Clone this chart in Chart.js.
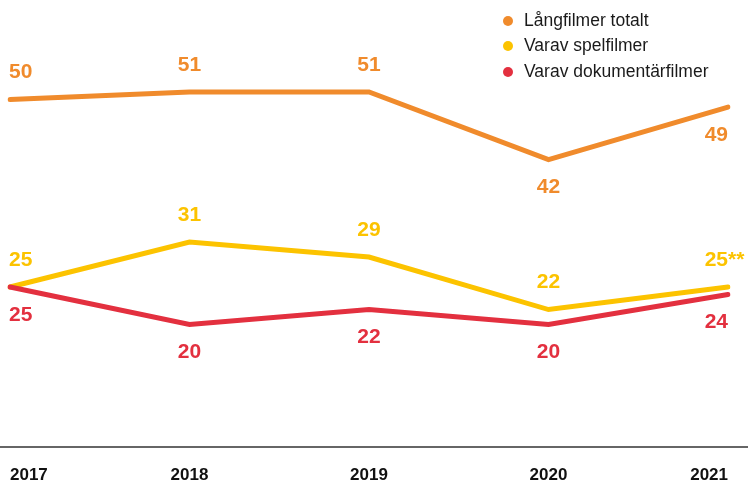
<!DOCTYPE html>
<html>
<head>
<meta charset="utf-8">
<script src="https://cdn.jsdelivr.net/npm/chart.js@4.4.0/dist/chart.umd.min.js"></script>
<style>
  body { margin: 0; background: #fff; }
  #wrap { position: relative; width: 748px; height: 480px; }
  #legend { position: absolute; left: 503px; top: 7.5px; font-family: "Liberation Sans", Arial, sans-serif; font-size: 17.5px; color: #1a1a1a; }
  #legend div { height: 25.5px; line-height: 25.5px; white-space: nowrap; }
  #legend span { display: inline-block; width: 10px; height: 10px; border-radius: 50%; margin-right: 11px; vertical-align: 0px; }
</style>
</head>
<body>
<div id="wrap">
  <canvas id="chart" width="748" height="480"></canvas>
  <div id="legend"></div>
</div>
<script>
const years = ['2017', '2018', '2019', '2020', '2021'];
const totalt = [50, 51, 51, 42, 49];
const spel = [25, 31, 29, 22, 25];
const dokumentar = [25, 20, 22, 20, 24];
const spelNotes = ['', '', '', '', '**'];
const seriesNames = ['Långfilmer totalt', 'Varav spelfilmer', 'Varav dokumentärfilmer'];
const colors = ['#f08b2c', '#fcc300', '#e3303f'];

// where each series label goes relative to its point
const labelSide = [
  ['up', 'up', 'up', 'down', 'down'],
  ['up', 'up', 'up', 'up', 'up'],
  ['down', 'down', 'down', 'down', 'down']
];
const notes = [null, spelNotes, null];

const legend = document.getElementById('legend');
seriesNames.forEach((n, i) => {
  legend.innerHTML += '<div><span style="background:' + colors[i] + '"></span>' + n + '</div>';
});

const LABEL_FONT = 'bold 21px "Liberation Sans", Arial, sans-serif';

const valueLabels = {
  id: 'valueLabels',
  afterDatasetsDraw(chart) {
    const ctx = chart.ctx;
    ctx.save();
    ctx.font = LABEL_FONT;
    ctx.textBaseline = 'middle';
    ctx.textAlign = 'left';
    chart.data.datasets.forEach((ds, di) => {
      const meta = chart.getDatasetMeta(di);
      meta.data.forEach((pt, i) => {
        const txt = String(ds.data[i]);
        const note = notes[di] ? notes[di][i] : '';
        const w = ctx.measureText(txt).width;
        let x = pt.x - w / 2;
        if (i === 0) x = pt.x - 1;
        if (i === meta.data.length - 1) x = pt.x - w;
        const y = labelSide[di][i] === 'up' ? pt.y - 27 : pt.y + 28;
        ctx.fillStyle = ds.borderColor;
        ctx.fillText(txt + note, x, y);
      });
    });
    // baseline across the whole width
    const yb = chart.chartArea.bottom;
    ctx.strokeStyle = '#333';
    ctx.lineWidth = 1.6;
    ctx.beginPath();
    ctx.moveTo(0, yb);
    ctx.lineTo(chart.width, yb);
    ctx.stroke();
    ctx.restore();
  }
};

new Chart(document.getElementById('chart').getContext('2d'), {
  type: 'line',
  data: {
    labels: years,
    datasets: [
      { label: seriesNames[0], data: totalt, borderColor: colors[0], order: 0 },
      { label: seriesNames[1], data: spel, borderColor: colors[1], order: 2 },
      { label: seriesNames[2], data: dokumentar, borderColor: colors[2], order: 1 }
    ]
  },
  options: {
    responsive: false,
    animation: false,
    layout: { padding: { left: 10, right: 20, top: 0, bottom: 0 } },
    elements: {
      line: { borderWidth: 5, tension: 0, borderCapStyle: 'round', borderJoinStyle: 'miter', fill: false },
      point: { radius: 0, hoverRadius: 0 }
    },
    scales: {
      x: {
        grid: { display: false, drawTicks: false },
        border: { display: false },
        afterFit(scale) {
          scale.height = 33;
          scale.paddingLeft = 0;
          scale.paddingRight = 0;
        },
        ticks: {
          align: 'inner',
          padding: 18,
          color: '#111',
          font: { family: '"Liberation Sans", Arial, sans-serif', size: 17, weight: 'bold' }
        }
      },
      y: { display: false, min: 3.67, max: 63.27 }
    },
    plugins: {
      legend: { display: false },
      tooltip: { enabled: false }
    }
  },
  plugins: [valueLabels]
});
</script>
</body>
</html>
